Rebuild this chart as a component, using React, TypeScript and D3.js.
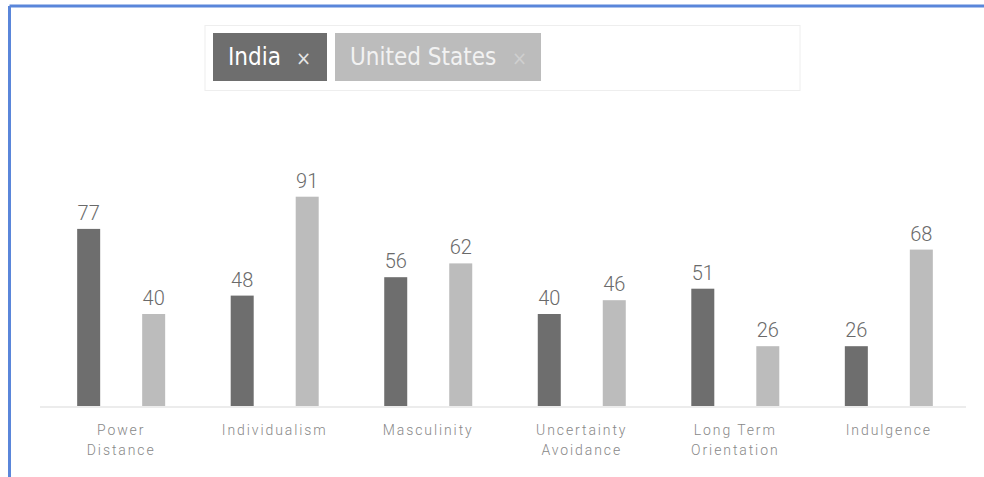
import React from "react";
import * as d3 from "d3";

const categories = ["Power Distance", "Individualism", "Masculinity", "Uncertainty Avoidance", "Long Term Orientation", "Indulgence"];
const categoryLines = [["Power", "Distance"], ["Individualism"], ["Masculinity"], ["Uncertainty", "Avoidance"], ["Long Term", "Orientation"], ["Indulgence"]];
const seriesNames = ["India", "United States"];
const indiaValues = [77, 48, 56, 40, 51, 26];
const usValues = [40, 91, 62, 46, 26, 68];
const seriesColors = ["#6e6e6e", "#bcbcbc"];

const W = 984;
const H = 477;
const baseY = 406;

export default function App() {
  const x = d3.scaleBand<string>().domain(categories).range([44.4, 965.6]).paddingInner(0);
  const bw = x.bandwidth();
  const xs = d3.scalePoint<string>().domain(seriesNames).range([bw / 2 - 32.5, bw / 2 + 32.5]);
  const y = d3.scaleLinear().domain([0, 100]).range([baseY, baseY - 230]);
  const barW = 23;
  const data = [indiaValues, usValues];
  const chipFont = "'DejaVu Sans Condensed', 'DejaVu Sans', sans-serif";

  return (
    <svg width={W} height={H} style={{ position: "absolute", left: 0, top: 0, display: "block", background: "#fff" }}>
      {/* blue frame */}
      <line x1={9.5} y1={6} x2={W} y2={6} stroke="#5a86da" strokeWidth={3} />
      <line x1={9.5} y1={6} x2={9.5} y2={H} stroke="#5a86da" strokeWidth={3} />

      {/* legend box */}
      <rect x={205} y={25.5} width={595} height={65} fill="#fff" stroke="#eeeeee" strokeWidth={1} />
      <rect x={213} y={33} width={114} height={48} fill={seriesColors[0]} />
      <text x={228} y={65} fontFamily={chipFont} fontSize={24} fill="#ffffff">India</text>
      <text x={296} y={65} fontFamily={chipFont} fontSize={20} fill="#e6e6e6">×</text>
      <rect x={335} y={33} width={206} height={48} fill={seriesColors[1]} />
      <text x={350} y={65} fontFamily={chipFont} fontSize={24} fill="#f2f2f2">United States</text>
      <text x={512} y={65} fontFamily={chipFont} fontSize={20} fill="#cfcfcf">×</text>

      {/* axis line */}
      <line x1={40} x2={966} y1={baseY + 1} y2={baseY + 1} stroke="#ececec" strokeWidth={2} />

      {categories.map((c, i) => (
        <g key={c} transform={`translate(${x(c)},0)`}>
          {seriesNames.map((s, j) => {
            const v = data[j][i];
            const cx = xs(s) as number;
            return (
              <g key={s}>
                <rect x={cx - barW / 2} y={y(v)} width={barW} height={baseY - y(v)} fill={seriesColors[j]} />
                <text x={cx} y={y(v) - 9} textAnchor="middle" fontFamily="Roboto, 'Liberation Sans', sans-serif" fontWeight={300} fontSize={20} fill="#6a6a6a">{v}</text>
              </g>
            );
          })}
          {categoryLines[i].map((ln, k) => (
            <text key={k} x={bw / 2} y={435 + k * 20} textAnchor="middle" fontFamily="Roboto, 'Liberation Sans', sans-serif" fontWeight={300} fontSize={14} letterSpacing={1.9} fill="#888">{ln}</text>
          ))}
        </g>
      ))}
    </svg>
  );
}
